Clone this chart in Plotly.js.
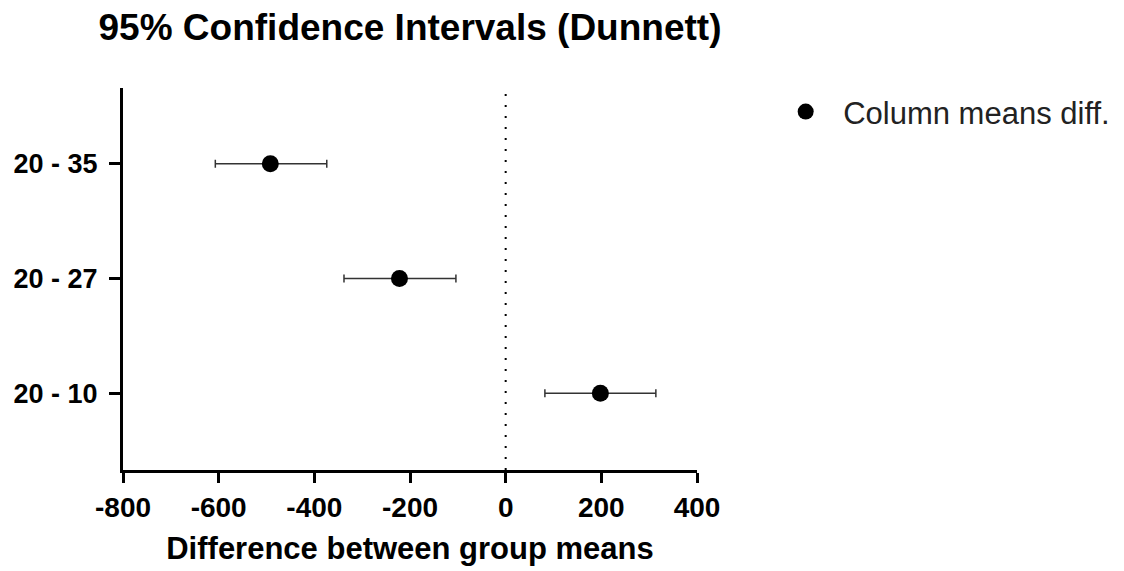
<!DOCTYPE html>
<html>
<head>
<meta charset="utf-8">
<script src="https://cdn.plot.ly/plotly-3.0.1.min.js"></script>
<style>html,body{margin:0;padding:0;background:#fff}#chart{width:1124px;height:571px}</style>
</head>
<body>
<div id="chart"></div>
<script>
var comparisons = ["20 - 35", "20 - 27", "20 - 10"];
var meanDiff = [-492, -222, 198];
var lowerCI = [-607, -338, 82];
var upperCI = [-374, -104, 314];
var categoryOrder = ["20 - 10", "20 - 27", "20 - 35"];
var xTicks = [-800, -600, -400, -200, 0, 200, 400];

var errPlus = meanDiff.map(function (m, i) { return upperCI[i] - m; });
var errMinus = meanDiff.map(function (m, i) { return m - lowerCI[i]; });

var FONT = "Liberation Sans, Arial, sans-serif";

var trace = {
  type: "scatter",
  mode: "markers",
  name: "Column means diff.",
  x: meanDiff,
  y: comparisons,
  marker: {color: "#000", size: 17, symbol: "circle"},
  error_x: {
    type: "data", symmetric: false,
    array: errPlus, arrayminus: errMinus,
    color: "#333", thickness: 1.5, width: 4
  },
  showlegend: true
};

var layout = {
  width: 1124, height: 571,
  margin: {l: 123, r: 427, t: 88, b: 101, autoexpand: false},
  paper_bgcolor: "#fff", plot_bgcolor: "#fff",
  title: {
    text: "95% Confidence Intervals (Dunnett)",
    font: {family: FONT, size: 37, weight: "bold", color: "#000"},
    x: 0.5, xref: "paper", xanchor: "center",
    y: 0.953, yref: "container", yanchor: "middle"
  },
  xaxis: {
    range: [-800, 400],
    tickvals: xTicks,
    ticktext: xTicks.map(String),
    showgrid: false, zeroline: false,
    showline: true, linecolor: "#000", linewidth: 3,
    ticks: "outside", ticklen: 10, tickwidth: 3, tickcolor: "#000",
    tickfont: {family: FONT, size: 28, weight: "bold", color: "#000"},
    title: {text: "Difference between group means",
            font: {family: FONT, size: 31, weight: "bold", color: "#000"},
            standoff: 16}
  },
  yaxis: {
    type: "category",
    categoryorder: "array", categoryarray: categoryOrder,
    range: [-0.67, 2.66],
    showgrid: false, zeroline: false,
    showline: true, linecolor: "#000", linewidth: 3,
    ticks: "outside", ticklen: 11, tickwidth: 3, tickcolor: "#000",
    ticklabelstandoff: 6,
    tickfont: {family: FONT, size: 27, weight: "bold", color: "#000"}
  },
  shapes: [{
    type: "line", xref: "x", yref: "paper",
    x0: 0, x1: 0, y0: 0, y1: 1,
    line: {color: "#000", width: 2, dash: "2px,9px"}
  }],
  legend: {
    x: 1.124, xanchor: "left", y: 1.008, yanchor: "top",
    itemwidth: 65,
    font: {family: FONT, size: 31, color: "#222"},
    bgcolor: "rgba(0,0,0,0)"
  },
  showlegend: true
};

Plotly.newPlot("chart", [trace], layout, {displayModeBar: false, staticPlot: true});
</script>
</body>
</html>
